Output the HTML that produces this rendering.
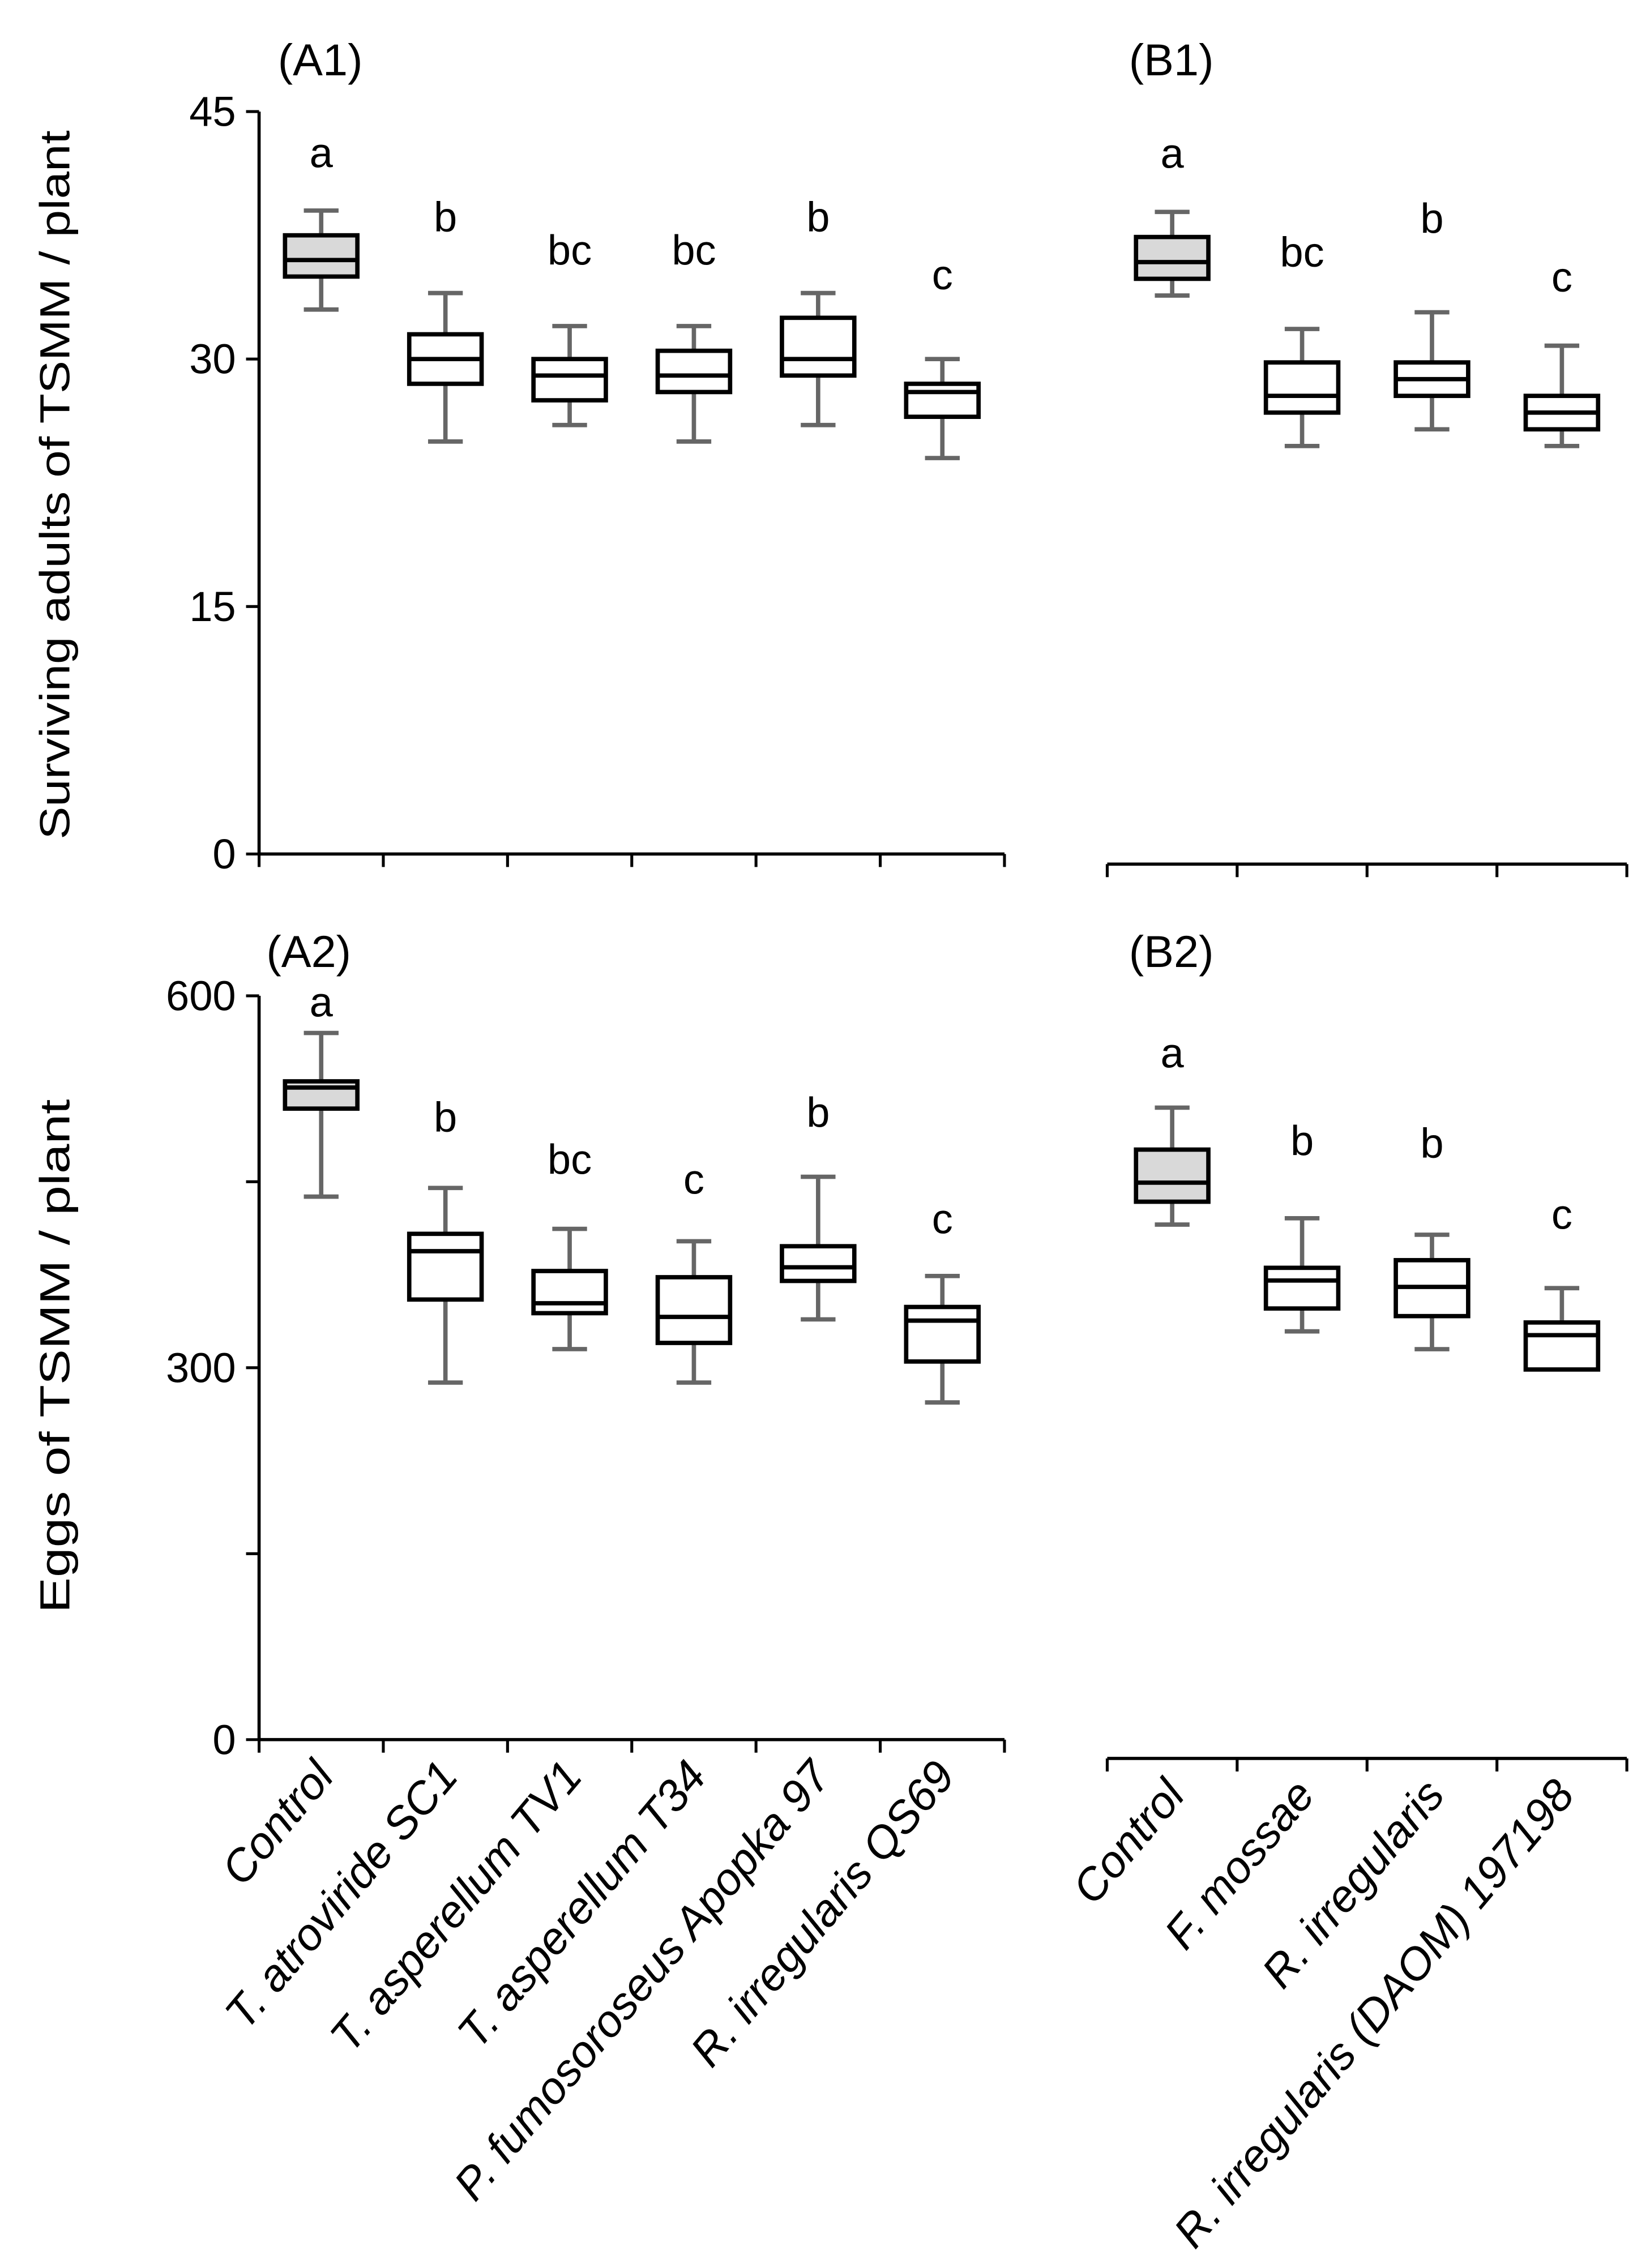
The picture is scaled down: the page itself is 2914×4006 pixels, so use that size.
<!DOCTYPE html>
<html><head><meta charset="utf-8"><style>
html,body{margin:0;padding:0;background:#fff}
svg{display:block}
text{font-family:"Liberation Sans",sans-serif;fill:#000}
</style></head><body>
<svg id="chart" width="2914" height="4006" viewBox="0 0 1140 1567" xmlns="http://www.w3.org/2000/svg"></svg>
<script>
// ---- Data ----
const catsA = ["Control","T. atroviride SC1","T. asperellum TV1","T. asperellum T34","P. fumosoroseus Apopka 97","R. irregularis QS69"];
const catsB = ["Control","F. mossae","R. irregularis","R. irregularis (DAOM) 197198"];
// A1 survivors: [whiskerLow, q1, median, q3, whiskerHigh]
const a1Low = [33,25,26,25,26,24];
const a1Q1  = [35,28.5,27.5,28,29,26.5];
const a1Med = [36,30,29,29,30,28];
const a1Q3  = [37.5,31.5,30,30.5,32.5,28.5];
const a1High= [39,34,32,32,34,30];
const a1Letters = ["a","b","bc","bc","b","c"];
const a1LetterY = [42.5,38.6,36.6,36.6,38.6,35.1];
const b1Low = [34,25,26,25];
const b1Q1  = [35,27,28,26];
const b1Med = [36,28,29,27];
const b1Q3  = [37.5,30,30,28];
const b1High= [39,32,33,31];
const b1Letters = ["a","bc","b","c"];
const b1LetterY = [42.5,36.6,38.6,35.1];
// A2 eggs
const a2Low = [438,288,315,288,339,272];
const a2Q1  = [509,355,344,320,370,305];
const a2Med = [526,394,352,341,381,338];
const a2Q3  = [531,408,378,373,398,349];
const a2High= [570,445,412,402,454,374];
const a2Letters = ["a","b","bc","c","b","c"];
const a2LetterY = [595,502,468,452,506,420];
const b2Low = [420,336,322,307];
const b2Q1  = [438,354,348,306];
const b2Med = [453,376,371,333];
const b2Q3  = [479,386,392,343];
const b2High= [512,425,412,370];
const b2Letters = ["a","b","b","c"];
const b2LetterY = [555,486,484,428];
const ticksA1 = [0,15,30,45];
const ticksA2 = [0,300,600];
const minorA2 = [150,450];

const NS="http://www.w3.org/2000/svg";
const svg=document.getElementById('chart');
function mk(tag,attrs,parent){const e=document.createElementNS(NS,tag);for(const k in attrs)e.setAttribute(k,attrs[k]);(parent||svg).appendChild(e);return e;}

function panel(opts){
  const g=mk('g',{});
  
  
  const {x0,x1,yTop,yBot,max,n}=opts;
  const ys=v=>yBot-(v/max)*(yBot-yTop);
  const step=(x1-x0)/n;
  const xc=i=>x0+step*(i+0.5);
  const ax=mk('line',{x1:x0,x2:x1,y1:yBot,y2:yBot,stroke:'#000','stroke-width':2.2},g);
  
  
  for(let i=0;i<=n;i++){
    const t=mk('line',{x1:x0+step*i,x2:x0+step*i,y1:yBot,y2:yBot+9,stroke:'#000','stroke-width':2},g);
    
    
  }
  if(opts.yAxis){
    const ay=mk('line',{x1:x0,x2:x0,y1:yTop,y2:yBot,stroke:'#000','stroke-width':2.2},g);
    
    
    opts.ticks.forEach(v=>{
      const t=mk('line',{x1:x0-9,x2:x0,y1:ys(v),y2:ys(v),stroke:'#000','stroke-width':2},g);
      
      
      const tl=mk('text',{x:x0-16,y:ys(v)+10,'text-anchor':'end','font-size':29},g);
      tl.textContent=v;
      
      
    });
    (opts.minor||[]).forEach(v=>{
      const t=mk('line',{x1:x0-9,x2:x0,y1:ys(v),y2:ys(v),stroke:'#000','stroke-width':2},g);
      
      
    });
  }
  const bw=50, cw=24;
  for(let i=0;i<n;i++){
    const bg=mk('g',{},g);
    
    
    const c=xc(i);
    const wc='#666';
    mk('line',{x1:c,x2:c,y1:ys(opts.high[i]),y2:ys(opts.q3[i]),stroke:wc,'stroke-width':3},bg);
    mk('line',{x1:c,x2:c,y1:ys(opts.q1[i]),y2:ys(opts.low[i]),stroke:wc,'stroke-width':3},bg);
    mk('line',{x1:c-cw/2,x2:c+cw/2,y1:ys(opts.high[i]),y2:ys(opts.high[i]),stroke:wc,'stroke-width':3},bg);
    mk('line',{x1:c-cw/2,x2:c+cw/2,y1:ys(opts.low[i]),y2:ys(opts.low[i]),stroke:wc,'stroke-width':3},bg);
    mk('rect',{x:c-bw/2,y:ys(opts.q3[i]),width:bw,height:ys(opts.q1[i])-ys(opts.q3[i]),fill:i===0?'#d9d9d9':'#fff',stroke:'#000','stroke-width':3},bg);
    mk('line',{x1:c-bw/2,x2:c+bw/2,y1:ys(opts.med[i]),y2:ys(opts.med[i]),stroke:'#000','stroke-width':3},bg);
    const lt=mk('text',{x:c,y:ys(opts.letterY[i])+10,'text-anchor':'middle','font-size':29},g);
    lt.textContent=opts.letters[i];
    
    
    if(opts.catLabels){
      const tx=c+10, ty=yBot+26;
      const cl=mk('text',{x:tx,y:ty,'text-anchor':'end','font-size':31,'font-style':'italic',transform:`rotate(-50 ${tx} ${ty})`},g);
      cl.textContent=opts.cats[i];
      
      
    }
  }
  const pl=mk('text',{x:opts.lx,y:opts.ly,'font-size':31},g);
  pl.textContent=opts.label;
  
  
}

panel({name:'panel-a1',label:'(A1)',lx:192,ly:52,x0:179,x1:694,yTop:77,yBot:590,max:45,n:6,yAxis:true,ticks:ticksA1,
  cats:catsA,low:a1Low,q1:a1Q1,med:a1Med,q3:a1Q3,high:a1High,letters:a1Letters,letterY:a1LetterY});
panel({name:'panel-b1',label:'(B1)',lx:780,ly:52,x0:765,x1:1124,yTop:77,yBot:597,max:45,n:4,yAxis:false,
  cats:catsB,low:b1Low,q1:b1Q1,med:b1Med,q3:b1Q3,high:b1High,letters:b1Letters,letterY:b1LetterY});
panel({name:'panel-a2',label:'(A2)',lx:184,ly:668,x0:179,x1:694,yTop:688,yBot:1202,max:600,n:6,yAxis:true,ticks:ticksA2,minor:minorA2,
  cats:catsA,low:a2Low,q1:a2Q1,med:a2Med,q3:a2Q3,high:a2High,letters:a2Letters,letterY:a2LetterY,catLabels:true});
panel({name:'panel-b2',label:'(B2)',lx:780,ly:668,x0:765,x1:1124,yTop:688,yBot:1215,max:600,n:4,yAxis:false,
  cats:catsB,low:b2Low,q1:b2Q1,med:b2Med,q3:b2Q3,high:b2High,letters:b2Letters,letterY:b2LetterY,catLabels:true});

const t1=mk('text',{x:48,y:335,'text-anchor':'middle','font-size':29,textLength:490,lengthAdjust:'spacingAndGlyphs',transform:'rotate(-90 48 335)'});
t1.textContent='Surviving adults of TSMM / plant';


const t2=mk('text',{x:48,y:937,'text-anchor':'middle','font-size':29,textLength:355,lengthAdjust:'spacingAndGlyphs',transform:'rotate(-90 48 937)'});
t2.textContent='Eggs of TSMM / plant';


</script>
</body></html>
